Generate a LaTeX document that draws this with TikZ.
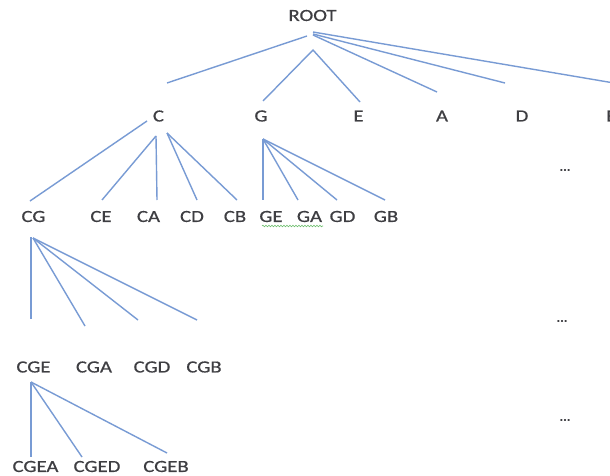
\documentclass[tikz,border=0pt]{standalone}
\usepackage{fontspec}
\setmainfont[FakeStretch=1.22,FakeBold=0.6]{Carlito}
\usetikzlibrary{decorations.pathmorphing}
\definecolor{linkblue}{RGB}{120,155,212}
\definecolor{labelgray}{RGB}{62,62,66}
\definecolor{squiggle}{RGB}{110,190,110}
\begin{document}
\begin{tikzpicture}[x=1pt,y=-1pt,
  lbl/.style={inner sep=0pt, text=labelgray, font=\fontsize{17}{17}\selectfont},
  dotsl/.style={inner sep=0pt, text=labelgray, font=\fontsize{11}{11}\selectfont\bfseries},
  link/.style={draw=linkblue, line width=1.4pt}]
\useasboundingbox[fill=white] (0,0) rectangle (610,476);
% nodes
\node[lbl] (root) at (312.5,15.5) {ROOT};
\node[lbl] (c) at (158.5,116) {C};
\node[lbl] (g) at (261,116) {G};
\node[lbl] (e) at (358.5,116) {E};
\node[lbl] (a) at (442,116) {A};
\node[lbl] (d) at (522,116) {D};
\node[lbl, anchor=west] (e2) at (606,116) {E};
\node[lbl] (cg) at (33.5,216.5) {CG};
\node[lbl] (ce) at (101,216.5) {CE};
\node[lbl] (ca) at (148.5,216.5) {CA};
\node[lbl] (cd) at (192,216.5) {CD};
\node[lbl] (cb) at (235,216.5) {CB};
\node[lbl] (ge) at (271,216.5) {GE};
\node[lbl] (ga) at (309.5,216.5) {GA};
\node[lbl] (gd) at (342.5,216.5) {GD};
\node[lbl] (gb) at (386,216.5) {GB};
\node[lbl] (cge) at (33.5,367) {CGE};
\node[lbl] (cga) at (94,367) {CGA};
\node[lbl] (cgd) at (152,367) {CGD};
\node[lbl] (cgb) at (204,367) {CGB};
\node[lbl] (cgea) at (35.5,466.5) {CGEA};
\node[lbl] (cged) at (97,466.5) {CGED};
\node[lbl] (cgeb) at (166,466.5) {CGEB};
\node[dotsl] (dots1) at (565,170) {...};
\node[dotsl] (dots2) at (562,321) {...};
\node[dotsl] (dots3) at (565,420) {...};
% spelling squiggle
\coordinate (sq1) at (262,226);
\coordinate (sq2) at (323,226);
\draw[squiggle, line width=0.6pt, decorate, decoration={snake, amplitude=0.8pt, segment length=3pt}] (sq1) -- (sq2);
% connector end points (lines float between labels)
\coordinate (rC) at (307,36);   \coordinate (tC) at (167,83);
\coordinate (rG) at (313,50);   \coordinate (tG) at (263,101); \coordinate (tE) at (360,102);
\coordinate (rA) at (313,35);   \coordinate (tA) at (437,92);
\coordinate (rD) at (313,34);   \coordinate (tD) at (505,83);
\coordinate (rE) at (313,32);   \coordinate (tE2) at (614,83);
\draw[link] (rC) -- (tC);
\draw[link] (tG) -- (rG) -- (tE);
\draw[link] (rA) -- (tA);
\draw[link] (rD) -- (tD);
\draw[link] (rE) -- (tE2);
% C children
\coordinate (cL) at (147,121); \coordinate (bCG) at (30,201);
\coordinate (cM) at (156,136); \coordinate (bCE) at (102,200); \coordinate (bCA) at (157,200);
\coordinate (cR) at (167,133); \coordinate (bCD) at (197,200); \coordinate (bCB) at (237,200);
\draw[link] (cL) -- (bCG);
\draw[link] (cM) -- (bCE);
\draw[link] (cM) -- (bCA);
\draw[link] (cR) -- (bCD);
\draw[link] (cR) -- (bCB);
% G children
\coordinate (gA) at (263,139);
\coordinate (bGE) at (263,200); \coordinate (bGA) at (298,200);
\coordinate (bGD) at (337,200); \coordinate (bGB) at (385,200);
\draw[link] (gA) -- (bGE);
\draw[link] (gA) -- (bGA);
\draw[link] (gA) -- (bGD);
\draw[link] (gA) -- (bGB);
% CG children
\coordinate (cgA) at (31,237); \coordinate (cgA2) at (33,238);
\coordinate (bCGE) at (31,319); \coordinate (bCGA) at (85,326);
\coordinate (bCGD) at (138,320); \coordinate (bCGB) at (197,320);
\draw[link] (cgA) -- (bCGE);
\draw[link] (cgA2) -- (bCGA);
\draw[link] (cgA2) -- (bCGD);
\draw[link] (cgA2) -- (bCGB);
% CGE children
\coordinate (cgeA) at (31,382);
\coordinate (bCGEA) at (31,457); \coordinate (bCGED) at (82,457); \coordinate (bCGEB) at (167,453);
\draw[link] (cgeA) -- (bCGEA);
\draw[link] (cgeA) -- (bCGED);
\draw[link] (cgeA) -- (bCGEB);
\end{tikzpicture}
\end{document}
